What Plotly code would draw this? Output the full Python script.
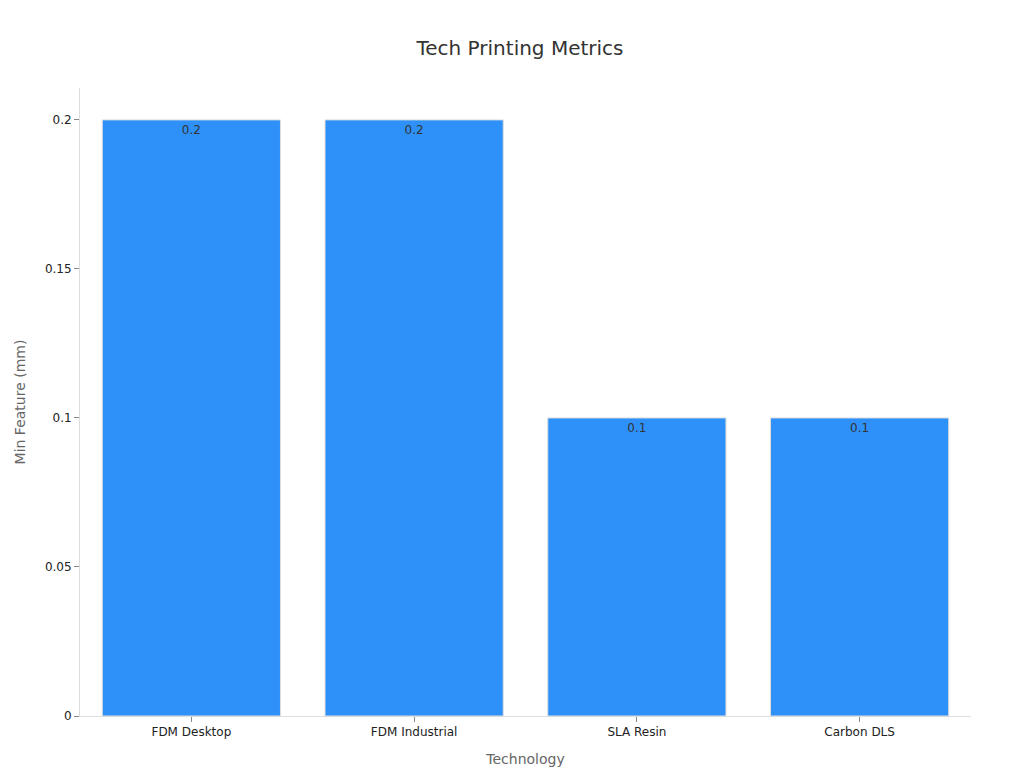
import plotly.graph_objects as go

technologies = ["FDM Desktop", "FDM Industrial", "SLA Resin", "Carbon DLS"]
min_feature = [0.2, 0.2, 0.1, 0.1]

fig = go.Figure(go.Bar(
    x=technologies, y=min_feature,
    text=[str(v) for v in min_feature],
    textposition="inside", insidetextanchor="end",
    textfont=dict(color="#333333", size=12),
    marker=dict(color="#2E91FA", line=dict(color="#DDDDDD", width=1)),
))

fig.update_layout(
    title=dict(text="Tech Printing Metrics", x=0.5, y=0.957, xanchor="center",
               font=dict(size=20, color="#333333")),
    font=dict(family="DejaVu Sans", size=12, color="#222222"),
    width=1024, height=768,
    margin=dict(l=72, r=61, t=80, b=60),
    plot_bgcolor="white", paper_bgcolor="white",
    bargap=0.2, showlegend=False,
)
fig.update_xaxes(title=dict(text="Technology", font=dict(size=14, color="#666666")),
                 showline=True, linecolor="#DDDDDD", ticks="outside",
                 tickcolor="#888888", ticklen=5, showgrid=False)
fig.update_yaxes(title=dict(text="Min Feature (mm)", font=dict(size=14, color="#666666")),
                 range=[0, 0.2107], tickvals=[0, 0.05, 0.1, 0.15, 0.2],
                 ticktext=["0", "0.05", "0.1", "0.15", "0.2"],
                 showline=True, linecolor="#DDDDDD", ticks="outside",
                 tickcolor="#888888", ticklen=5, showgrid=False, zeroline=False)

fig.write_html("out.html")
